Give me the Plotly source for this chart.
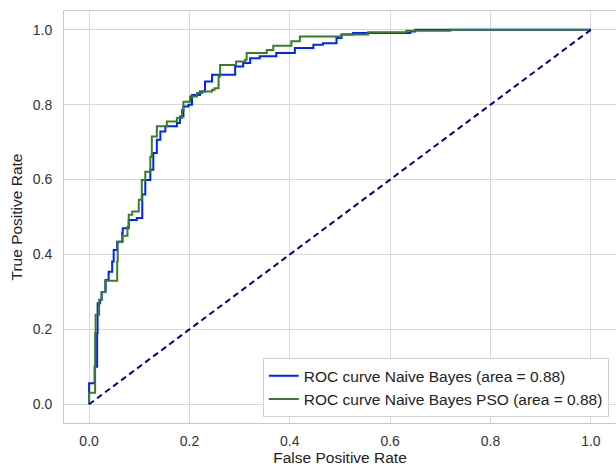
import plotly.graph_objects as go

# ROC vertices (step corners, drawn right-then-up)
fpr_nb = [0, 0, 0.011, 0.016, 0.017, 0.022, 0.025, 0.033, 0.039, 0.046, 0.049, 0.056,
          0.066, 0.067, 0.079, 0.095, 0.106, 0.112, 0.122, 0.128, 0.135, 0.142, 0.152,
          0.175, 0.181, 0.188, 0.198, 0.205, 0.221, 0.231, 0.245, 0.291, 0.307, 0.321,
          0.34, 0.373, 0.41, 0.447, 0.466, 0.493, 0.503, 0.526, 0.64, 0.65, 1.0]
tpr_nb = [0, 0.056, 0.10, 0.19, 0.27, 0.279, 0.30, 0.332, 0.354, 0.381, 0.412, 0.434,
          0.457, 0.47, 0.492, 0.497, 0.56, 0.599, 0.626, 0.671, 0.706, 0.728, 0.742,
          0.751, 0.768, 0.795, 0.80, 0.826, 0.835, 0.862, 0.88, 0.902, 0.911, 0.924,
          0.929, 0.938, 0.951, 0.96, 0.964, 0.978, 0.987, 0.991, 0.995, 1.0, 1.0]

fpr_pso = [0, 0, 0.012, 0.013, 0.02, 0.025, 0.032, 0.056, 0.057, 0.067, 0.0765, 0.079,
           0.086, 0.099, 0.105, 0.112, 0.122, 0.125, 0.135, 0.155, 0.175, 0.185, 0.188,
           0.201, 0.215, 0.225, 0.245, 0.25, 0.258, 0.261, 0.293, 0.311, 0.314, 0.354,
           0.367, 0.403, 0.42, 0.503, 0.556, 0.632, 0.72, 1.0]
tpr_pso = [0, 0.031, 0.19, 0.239, 0.279, 0.30, 0.33, 0.381, 0.434, 0.45, 0.474, 0.506,
           0.515, 0.546, 0.599, 0.621, 0.661, 0.715, 0.742, 0.755, 0.764, 0.786, 0.808,
           0.822, 0.831, 0.835, 0.84, 0.844, 0.875, 0.906, 0.915, 0.92, 0.938, 0.946,
           0.957, 0.969, 0.982, 0.987, 0.993, 0.997, 1.0, 1.0]

diag = [0, 1]
auc_nb = 0.88
auc_pso = 0.88
ticks = [0.0, 0.2, 0.4, 0.6, 0.8, 1.0]
tick_text = ["0.0", "0.2", "0.4", "0.6", "0.8", "1.0"]

FONT = "Liberation Sans, Arial"

fig = go.Figure()
fig.add_trace(go.Scatter(x=fpr_nb, y=tpr_nb, mode="lines", line_shape="hv",
                         line=dict(color="#0022ff", width=2),
                         name=f"ROC curve Naive Bayes (area = {auc_nb:.2f})"))
fig.add_trace(go.Scatter(x=fpr_pso, y=tpr_pso, mode="lines", line_shape="hv",
                         line=dict(color="#3a7d28", width=2),
                         name=f"ROC curve Naive Bayes PSO (area = {auc_pso:.2f})"))
fig.add_trace(go.Scatter(x=diag, y=diag, mode="lines",
                         line=dict(color="#000080", width=2, dash="6px,4px"),
                         showlegend=False))

axis_common = dict(range=[-0.05, 1.05], tickvals=ticks, ticktext=tick_text,
                   showgrid=True, gridcolor="#d8d8d8", gridwidth=1,
                   showline=True, linecolor="#c8c8c8", linewidth=1, mirror=True,
                   zeroline=False, ticks="",
                   tickfont=dict(family=FONT, size=14, color="#333333"),
                   title_font=dict(family=FONT, size=15.5, color="#222222"))

fig.update_layout(
    width=616, height=466,
    margin=dict(l=64, r=0, t=11, b=43),
    paper_bgcolor="white", plot_bgcolor="white",
    font=dict(family=FONT, size=14, color="#222222"),
    xaxis=dict(title=dict(text="False Positive Rate", standoff=4), ticklabelstandoff=5,
               **axis_common),
    yaxis=dict(title=dict(text="True Positive Rate", standoff=6), ticklabelstandoff=8,
               **axis_common),
    legend=dict(x=0.987, y=0.014, xanchor="right", yanchor="bottom",
                bgcolor="white", bordercolor="#d0d0d0", borderwidth=1,
                font=dict(family=FONT, size=15.5, color="#222222"),
                tracegroupgap=2),
)

fig.write_html("out.html")
